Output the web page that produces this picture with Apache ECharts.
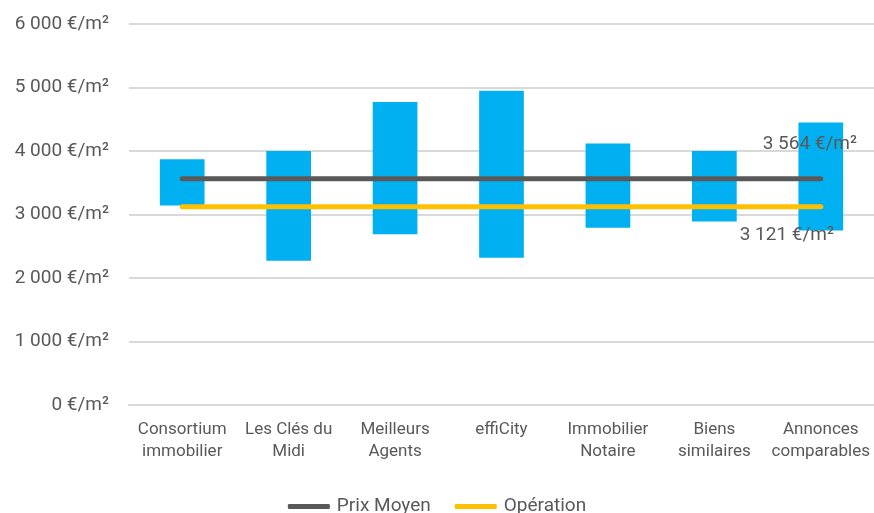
<!DOCTYPE html>
<html>
<head>
<meta charset="utf-8">
<script src="https://cdn.jsdelivr.net/npm/echarts@6/dist/echarts.min.js"></script>
<style>
  html, body { margin: 0; padding: 0; background: #fff; }
  #chart { width: 874px; height: 513px; }
</style>
</head>
<body>
<div id="chart"></div>
<script>
// catégories (sources de prix)
const categories = ['Consortium\nimmobilier', 'Les Clés du\nMidi', 'Meilleurs\nAgents', 'effiCity', 'Immobilier\nNotaire', 'Biens\nsimilaires', 'Annonces\ncomparables'];
// fourchette basse / haute en €/m²
const prixBas = [3140, 2270, 2690, 2320, 2790, 2890, 2750];
const prixHaut = [3870, 4000, 4770, 4950, 4120, 4000, 4450];
// lignes de référence
const prixMoyen = [3564, 3564, 3564, 3564, 3564, 3564, 3564];
const operation = [3121, 3121, 3121, 3121, 3121, 3121, 3121];
const yTicks = [0, 1000, 2000, 3000, 4000, 5000, 6000];

const txt = '#595959';
const fmt = v => String(v).replace(/\B(?=(\d{3})+(?!\d))/g, ' ') + ' €/m²';

// écart haut - bas pour la barre flottante
const ecart = prixHaut.map((h, i) => h - prixBas[i]);

// label seulement sur le dernier point
function withEndLabel(arr, lab) {
  return arr.map((v, i) => i === arr.length - 1 ? { value: v, label: lab } : v);
}

const chart = echarts.init(document.getElementById('chart'));
chart.setOption({
  animation: false,
  textStyle: { fontFamily: 'Roboto', color: txt },
  grid: { left: 129, right: -2, top: 24, bottom: 108 },
  legend: {
    top: 492,
    left: 'center',
    data: ['Prix Moyen', 'Opération'],
    icon: 'roundRect',
    itemWidth: 42,
    itemHeight: 5,
    itemGap: 24,
    textStyle: { color: txt, fontSize: 19, padding: [0, 0, 0, 2] }
  },
  xAxis: {
    type: 'category',
    data: categories,
    axisLine: { lineStyle: { color: '#d9d9d9', width: 2 } },
    axisTick: { show: false },
    axisLabel: { color: txt, fontSize: 17, lineHeight: 22, margin: 14, interval: 0 }
  },
  yAxis: {
    type: 'value',
    min: yTicks[0],
    max: yTicks[yTicks.length - 1],
    interval: 1000,
    axisLine: { show: false },
    axisTick: { show: false },
    splitLine: { lineStyle: { color: '#d9d9d9', width: 2 } },
    axisLabel: { color: txt, fontSize: 19, margin: 20, formatter: fmt }
  },
  series: [
    {
      name: 'base',
      type: 'bar',
      stack: 'range',
      barWidth: '42%',
      itemStyle: { color: 'transparent' },
      data: prixBas,
      silent: true
    },
    {
      name: 'Fourchette',
      type: 'bar',
      stack: 'range',
      barWidth: '42%',
      itemStyle: { color: '#00b0f0' },
      data: ecart
    },
    {
      name: 'Prix Moyen',
      type: 'line',
      symbol: 'circle',
      symbolSize: 1,
      showSymbol: true,
      lineStyle: { color: '#595959', width: 5, cap: 'round' },
      itemStyle: { color: '#595959' },
      data: withEndLabel(prixMoyen, {
        show: true, position: 'top', distance: 24, offset: [-11, 0],
        color: txt, fontSize: 19, formatter: p => fmt(p.value)
      })
    },
    {
      name: 'Opération',
      type: 'line',
      symbol: 'circle',
      symbolSize: 1,
      showSymbol: true,
      lineStyle: { color: '#ffc000', width: 5, cap: 'round' },
      itemStyle: { color: '#ffc000' },
      data: withEndLabel(operation, {
        show: true, position: 'bottom', distance: 18, offset: [-34, 0],
        color: txt, fontSize: 19, formatter: p => fmt(p.value)
      })
    }
  ]
});
</script>
</body>
</html>
